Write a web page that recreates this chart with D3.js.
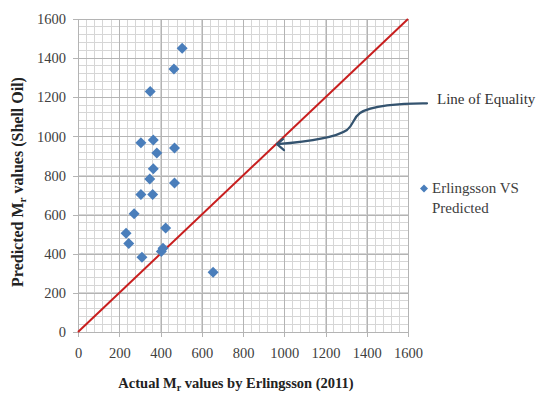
<!DOCTYPE html>
<html>
<head>
<meta charset="utf-8">
<script src="https://cdn.jsdelivr.net/npm/d3@7"></script>
<style>
  html, body { margin: 0; padding: 0; background: #fff; }
  svg { display: block; }
  text { font-family: "Liberation Serif", "Times New Roman", serif; }
</style>
</head>
<body>
<svg id="chart" width="538" height="394"></svg>
<script>
// Actual resilient modulus (Erlingsson 2011) vs predicted (Shell Oil)
const actualMr =    [505, 465, 350, 305, 365, 382, 468, 365, 348, 468, 305, 362, 272, 233, 246, 425, 310, 412, 404, 655];
const predictedMr = [1450, 1345, 1230, 968, 982, 915, 940, 835, 782, 762, 703, 703, 605, 505, 452, 532, 382, 428, 412, 305];
const xTicks = [0, 200, 400, 600, 800, 1000, 1200, 1400, 1600];
const yTicks = [0, 200, 400, 600, 800, 1000, 1200, 1400, 1600];
const equalityLine = [0, 1600];
const seriesName = ["Erlingsson VS", "Predicted"];

const svg = d3.select("#chart");
const m = { left: 78, right: 130, top: 19, bottom: 62 };
const W = 538, H = 394;

const x = d3.scaleLinear().domain([0, 1600]).range([m.left, W - m.right]);
const y = d3.scaleLinear().domain([0, 1600]).range([H - m.bottom, m.top]);

// minor grid every 40 units
const minor = d3.range(0, 1601, 40);
const grid = svg.append("g");
grid.selectAll("line.mx").data(minor).join("line")
  .attr("x1", d => x(d)).attr("x2", d => x(d))
  .attr("y1", y(0)).attr("y2", y(1600))
  .attr("stroke", "#d6d6d6").attr("stroke-width", 1).attr("shape-rendering", "crispEdges");
grid.selectAll("line.my").data(minor).join("line")
  .attr("y1", d => y(d)).attr("y2", d => y(d))
  .attr("x1", x(0)).attr("x2", x(1600))
  .attr("stroke", "#d6d6d6").attr("stroke-width", 1).attr("shape-rendering", "crispEdges");

// major grid through the axes' tick positions
const fmt = d3.format("d");
const xAxis = d3.axisBottom(x).tickValues(xTicks).tickFormat(fmt).tickSize(-(y(0) - y(1600))).tickPadding(16);
const yAxis = d3.axisLeft(y).tickValues(yTicks).tickFormat(fmt).tickSize(-(x(1600) - x(0))).tickPadding(12);

const gx = svg.append("g").attr("transform", `translate(0,${y(0)})`).call(xAxis);
const gy = svg.append("g").attr("transform", `translate(${x(0)},0)`).call(yAxis);
[gx, gy].forEach(g => {
  g.select(".domain").remove();
  g.selectAll(".tick line").attr("stroke", "#b4b4b4").attr("shape-rendering", "crispEdges");
  g.selectAll(".tick text").attr("fill", "#404040")
    .style("font-family", "'Liberation Serif', serif").style("font-size", "14.5px");
});
// short outward tick marks
gx.selectAll(".tick").append("line").attr("y1", 0).attr("y2", 5)
  .attr("stroke", "#b4b4b4").attr("shape-rendering", "crispEdges");
gy.selectAll(".tick").append("line").attr("x1", 0).attr("x2", -5)
  .attr("stroke", "#b4b4b4").attr("shape-rendering", "crispEdges");

// line of equality
svg.append("line")
  .attr("x1", x(equalityLine[0])).attr("y1", y(equalityLine[0]))
  .attr("x2", x(equalityLine[1])).attr("y2", y(equalityLine[1]))
  .attr("stroke", "#c81e1e").attr("stroke-width", 2);

// data points as diamonds
const diamond = (cx, cy, r) => `M${cx},${cy - r}L${cx + r},${cy}L${cx},${cy + r}L${cx - r},${cy}Z`;
svg.append("g").selectAll("path").data(actualMr.map((a, i) => [a, predictedMr[i]])).join("path")
  .attr("d", d => diamond(x(d[0]), y(d[1]), 5.5))
  .attr("fill", "#4a7ebb");

// annotation arrow pointing at the equality line
const tip = [x(960), y(960)];
const arrowPath = d3.path();
arrowPath.moveTo(427, 103.3);
arrowPath.bezierCurveTo(400, 103, 370, 106, 360, 113);
arrowPath.bezierCurveTo(353, 118, 354, 124, 347, 130);
arrowPath.bezierCurveTo(335, 138, 305, 142, tip[0] + 1, tip[1]);
svg.append("path").attr("d", arrowPath.toString())
  .attr("fill", "none").attr("stroke", "#34536f").attr("stroke-width", 2.2).attr("stroke-linecap", "round");
svg.append("path")
  .attr("d", `M${tip[0] + 7},${tip[1] - 5}L${tip[0] + 1},${tip[1]}L${tip[0] + 8},${tip[1] + 6}`)
  .attr("fill", "none").attr("stroke", "#34536f").attr("stroke-width", 2.2)
  .attr("stroke-linecap", "round").attr("stroke-linejoin", "round");

svg.append("text").attr("x", 437).attr("y", 104)
  .attr("fill", "#333").style("font-size", "15px").text("Line of Equality");

// legend
svg.append("path").attr("d", diamond(424, 188.5, 4)).attr("fill", "#4a7ebb");
const lg = svg.append("text").attr("x", 432).attr("y", 193).attr("fill", "#404040").style("font-size", "15px");
lg.append("tspan").text(seriesName[0]);
lg.append("tspan").attr("x", 432).attr("dy", 19.5).text(seriesName[1]);

// axis titles with subscript r
const xt = svg.append("text").attr("x", 236).attr("y", 388).attr("text-anchor", "middle")
  .attr("fill", "#222").style("font-size", "14.5px").style("font-weight", "bold");
xt.append("tspan").text("Actual M");
xt.append("tspan").attr("dy", 3).style("font-size", "10px").text("r");
xt.append("tspan").attr("dy", -3).text(" values by Erlingsson (2011)");

const yt = svg.append("text").attr("transform", "translate(23,182) rotate(-90)").attr("text-anchor", "middle")
  .attr("fill", "#222").style("font-size", "16px").style("font-weight", "bold");
yt.append("tspan").text("Predicted M");
yt.append("tspan").attr("dy", 3).style("font-size", "11px").text("r");
yt.append("tspan").attr("dy", -3).text(" values (Shell Oil)");
</script>
</body>
</html>
